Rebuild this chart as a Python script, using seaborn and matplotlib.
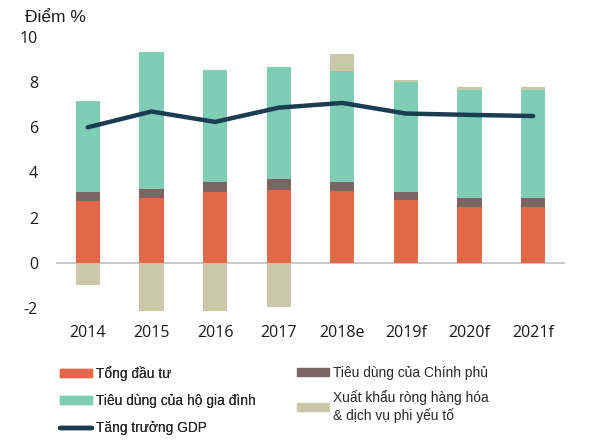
import numpy as np
import pandas as pd
import matplotlib
matplotlib.use("Agg")
import matplotlib.pyplot as plt
import seaborn as sns
from matplotlib.patches import Patch
from matplotlib.lines import Line2D

years = ["2014", "2015", "2016", "2017", "2018e", "2019f", "2020f", "2021f"]
investment = [2.75, 2.87, 3.13, 3.23, 3.17, 2.80, 2.46, 2.46]
government = [0.40, 0.39, 0.44, 0.46, 0.40, 0.34, 0.40, 0.40]
household = [4.02, 6.09, 4.95, 4.96, 4.93, 4.85, 4.78, 4.78]
net_exports = [-0.99, -2.12, -2.12, -1.97, 0.73, 0.10, 0.14, 0.14]
gdp_growth = [6.0, 6.7, 6.24, 6.87, 7.08, 6.61, 6.55, 6.5]

labels = ["Tổng đầu tư", "Tiêu dùng của Chính phủ", "Tiêu dùng của hộ gia đình",
          "Xuất khẩu ròng hàng hóa\n& dịch vụ phi yếu tố", "Tăng trưởng GDP"]
colors = ["#E2684A", "#7B6461", "#80CDB5", "#C9C8A8", "#1B3D52"]

sns.set_theme(style="white")
plt.rcParams["font.family"] = ["Liberation Sans", "DejaVu Sans"]
plt.rcParams["axes.unicode_minus"] = False

df = pd.DataFrame({"year": years, "inv": investment, "gov": government,
                   "hh": household, "nx": net_exports, "gdp": gdp_growth})

fig = plt.figure(figsize=(6, 4.43), dpi=100)
ax = fig.add_axes([0.0933, 0.2946, 0.8483, 0.6219])

inv = np.array(investment)
gov = np.array(government)
hh = np.array(household)
nx = np.array(net_exports)
bottom_gov = inv
bottom_hh = inv + gov
bottom_nx = np.where(nx >= 0, inv + gov + hh, 0.0)

bw = 0.38
sns.barplot(data=df, x="year", y="inv", color=colors[0], width=bw, saturation=1,
            ax=ax, linewidth=0)
sns.barplot(data=df, x="year", y="gov", color=colors[1], width=bw, saturation=1,
            ax=ax, linewidth=0, bottom=bottom_gov)
sns.barplot(data=df, x="year", y="hh", color=colors[2], width=bw, saturation=1,
            ax=ax, linewidth=0, bottom=bottom_hh)
sns.barplot(data=df, x="year", y="nx", color=colors[3], width=bw, saturation=1,
            ax=ax, linewidth=0, bottom=bottom_nx)

ax.plot(np.arange(len(years)), gdp_growth, color=colors[4], lw=3.2,
        solid_capstyle="round", solid_joinstyle="round", zorder=5)

ax.axhline(0, color="#BFBFBF", lw=1.2, zorder=0.5)
ax.set_xlim(-0.5, len(years) - 0.5)
ax.set_ylim(-2.2, 10)
ax.set_yticks([-2, 0, 2, 4, 6, 8, 10])
ax.set_xlabel("")
ax.set_ylabel("")
for s in ax.spines.values():
    s.set_visible(False)
ax.tick_params(axis="both", length=0, labelsize=11.5, colors="#1a1a1a")
ax.tick_params(axis="y", pad=13)
ax.tick_params(axis="x", pad=9)
for t in ax.get_xticklabels() + ax.get_yticklabels():
    t.set_fontfamily(["Open Sans", "DejaVu Sans"])

fig.text(0.042, 1 - 17 / 443, "Điểm %", fontsize=12.5, va="center", ha="left",
         color="#1a1a1a")

left_handles = [Patch(color=colors[0]), Patch(color=colors[2]),
                Line2D([], [], color=colors[4], lw=3.2)]
left_labels = [labels[0], labels[2], labels[4]]
right_handles = [Patch(color=colors[1]), Patch(color=colors[3])]
right_labels = [labels[1], labels[3]]

leg1 = fig.legend(left_handles, left_labels, loc="upper left",
                  bbox_to_anchor=(0.1, 1 - 366 / 443), frameon=False,
                  fontsize=9.9, handlelength=2.3, handleheight=0.45,
                  handletextpad=0.35, labelspacing=0.95, borderaxespad=0,
                  borderpad=0)
leg2 = fig.legend(right_handles, right_labels, loc="upper left",
                  bbox_to_anchor=(0.495, 1 - 366 / 443), frameon=False,
                  fontsize=9.9, handlelength=2.3, handleheight=0.45,
                  handletextpad=0.35, labelspacing=0.75, borderaxespad=0,
                  borderpad=0)
fig.add_artist(leg1)

fig.savefig("out.png", dpi=100)
